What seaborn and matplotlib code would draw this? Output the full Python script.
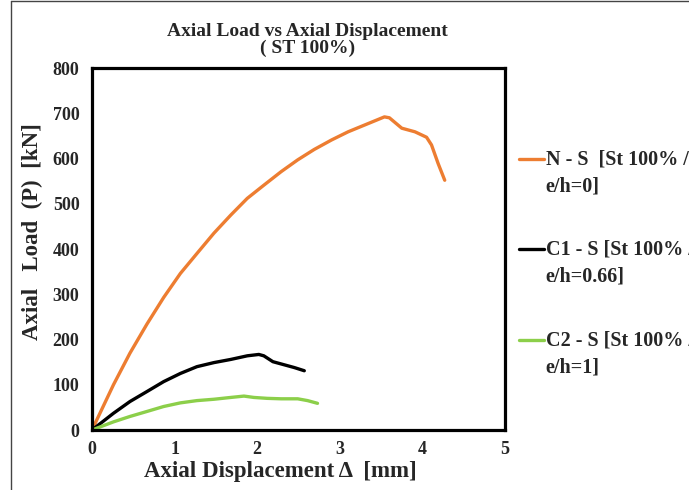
import numpy as np
import pandas as pd
import seaborn as sns
import matplotlib.pyplot as plt
from matplotlib.lines import Line2D
from matplotlib.legend_handler import HandlerLine2D

# N - S  (e/h = 0)
ns_disp = [0.0, 0.26, 0.46, 0.665, 0.868, 1.07, 1.27, 1.476, 1.68, 1.88, 2.08,
           2.29, 2.49, 2.69, 2.90, 3.10, 3.30, 3.42, 3.54, 3.60, 3.75, 3.91,
           4.05, 4.11, 4.19, 4.27]
ns_load = [0, 100, 170, 234, 293, 346, 390, 435, 475, 512, 541,
           571, 597, 620, 641, 659, 674, 683, 692, 690, 667, 659,
           647, 630, 589, 552]

# C1 - S  (e/h = 0.66)
c1_disp = [0.0, 0.26, 0.46, 0.665, 0.868, 1.07, 1.27, 1.476, 1.68, 1.88, 2.02,
           2.08, 2.19, 2.29, 2.45, 2.57]
c1_load = [0, 37, 63, 85, 107, 125, 140, 149, 156, 164, 167,
           164, 151, 146, 138, 131]

# C2 - S  (e/h = 1)
c2_disp = [0.0, 0.26, 0.46, 0.665, 0.868, 1.07, 1.27, 1.476, 1.68, 1.84, 1.96,
           2.12, 2.29, 2.49, 2.61, 2.73]
c2_load = [0, 18, 30, 41, 52, 60, 65, 68, 72, 75, 72,
           70, 69, 69, 65, 59]

series_labels = ["N - S  [St 100% /\ne/h=0]",
                 "C1 - S [St 100% /\ne/h=0.66]",
                 "C2 - S [St 100% /\ne/h=1]"]
series_colors = ["#ED7D31", "#000000", "#8CCF4A"]


class FirstLineHandler(HandlerLine2D):
    # put the legend line next to the first text line, like Excel does
    def create_artists(self, legend, orig_handle, xdescent, ydescent,
                       width, height, fontsize, trans):
        arts = super().create_artists(legend, orig_handle, xdescent, ydescent,
                                      width, height, fontsize, trans)
        for a in arts:
            a.set_ydata(np.asarray(a.get_ydata()) + 0.72 * fontsize)
        return arts


def main():
    sns.set_theme(style="white")
    plt.rcParams["font.family"] = ["Liberation Serif", "DejaVu Serif"]
    plt.rcParams["font.weight"] = "bold"

    df = pd.concat([
        pd.DataFrame({"disp": ns_disp, "load": ns_load, "series": series_labels[0]}),
        pd.DataFrame({"disp": c1_disp, "load": c1_load, "series": series_labels[1]}),
        pd.DataFrame({"disp": c2_disp, "load": c2_load, "series": series_labels[2]}),
    ])

    fig = plt.figure(figsize=(6.89, 4.90), dpi=100)
    ax = fig.add_axes([0.1335, 0.1224, 0.5995, 0.7388])

    sns.lineplot(data=df, x="disp", y="load", hue="series",
                 palette=dict(zip(series_labels, series_colors)),
                 sort=False, linewidth=2.4, legend=False, ax=ax)

    ax.set_xlim(0, 5)
    ax.set_ylim(0, 800)
    ax.set_xticks(range(0, 6))
    ax.set_yticks(range(0, 801, 100))
    ax.tick_params(length=0, labelsize=13, pad=9)
    ax.tick_params(axis="x", pad=8)
    for lab in ax.get_xticklabels() + ax.get_yticklabels():
        lab.set_fontweight("bold")
    for sp in ax.spines.values():
        sp.set_color("black")
        sp.set_linewidth(2.3)

    ax.set_title("Axial Load vs Axial Displacement\n( ST 100%)",
                 fontsize=14, fontweight="bold", pad=11, x=0.522,
                 linespacing=0.95)
    ax.set_xlabel("Axial Displacement \u0394  [mm]", fontsize=16.5,
                  fontweight="bold")
    ax.set_ylabel("Axial   Load  (P)  [kN]", fontsize=16.5, fontweight="bold")
    ax.xaxis.set_label_coords(0.455, -0.086)
    ax.yaxis.set_label_coords(-0.119, 0.547)

    handles = [Line2D([], [], color=c, linewidth=2.4) for c in series_colors]
    leg = fig.legend(handles, series_labels, loc="upper left",
                     bbox_to_anchor=(0.753, 0.695), frameon=False,
                     fontsize=14.5, handlelength=1.25, handletextpad=0.08,
                     labelspacing=2.17, borderpad=0, borderaxespad=0,
                     handler_map={Line2D: FirstLineHandler()})
    for t in leg.get_texts():
        t.set_fontweight("bold")
        t.set_linespacing(1.45)

    # thin frame of the original picture
    fig.add_artist(Line2D([0.016, 1.0], [0.997, 0.997], color="#444444",
                          linewidth=1, transform=fig.transFigure))
    fig.add_artist(Line2D([0.016, 0.016], [0.0, 0.997], color="#444444",
                          linewidth=1, transform=fig.transFigure))

    fig.savefig("out.png", dpi=100)


if __name__ == "__main__":
    main()
